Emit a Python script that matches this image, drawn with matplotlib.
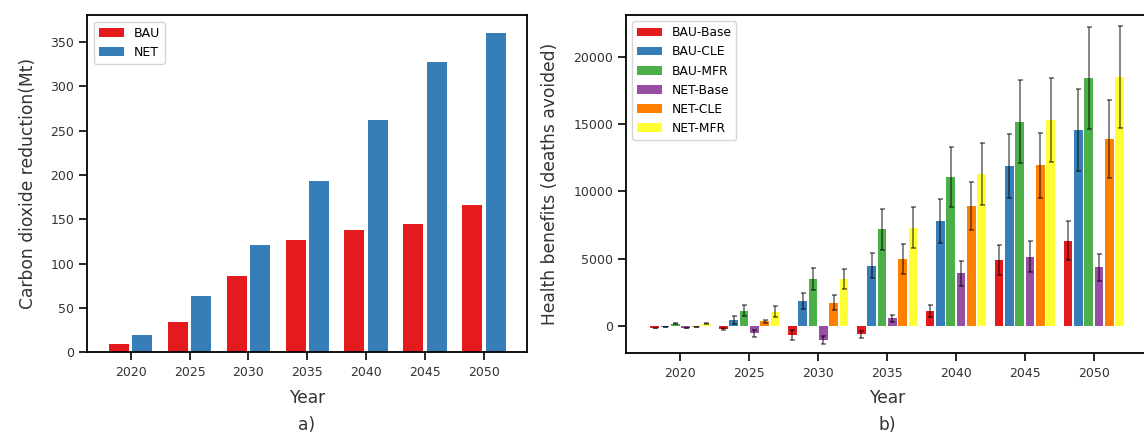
import matplotlib
matplotlib.use("Agg")
import matplotlib.pyplot as plt
import numpy as np

years = [2020, 2025, 2030, 2035, 2040, 2045, 2050]

# a) carbon dioxide reduction (Mt)
co2_bau = [9, 34, 86, 127, 138, 145, 166]
co2_net = [20, 64, 121, 193, 262, 327, 360]

# b) health benefits (deaths avoided) with uncertainty
scenarios = ["BAU-Base", "BAU-CLE", "BAU-MFR", "NET-Base", "NET-CLE", "NET-MFR"]
health = {
    "BAU-Base": [-150, -220, -680, -620, 1110, 4900, 6340],
    "BAU-CLE": [-60, 430, 1860, 4480, 7800, 11880, 14550],
    "BAU-MFR": [180, 1140, 3465, 7180, 11090, 15170, 18420],
    "NET-Base": [-150, -540, -1020, 570, 3910, 5150, 4360],
    "NET-CLE": [-60, 340, 1730, 4975, 8910, 11950, 13890],
    "NET-MFR": [180, 1050, 3465, 7300, 11290, 15300, 18510],
}
health_err = {
    "BAU-Base": [30, 90, 360, 280, 450, 1100, 1450],
    "BAU-CLE": [20, 300, 570, 920, 1600, 2380, 3020],
    "BAU-MFR": [40, 420, 815, 1510, 2230, 3100, 3800],
    "NET-Base": [30, 280, 300, 250, 940, 1140, 990],
    "NET-CLE": [20, 100, 540, 1085, 1780, 2410, 2900],
    "NET-MFR": [40, 400, 735, 1510, 2270, 3140, 3790],
}
colors = ["#e41a1c", "#377eb8", "#4daf4a", "#984ea3", "#ff7f00", "#ffff33"]

plt.rcParams["font.family"] = "DejaVu Sans"
plt.rcParams["xtick.major.size"] = 5.5
plt.rcParams["ytick.major.size"] = 5.5
plt.rcParams["xtick.major.width"] = 1.2
plt.rcParams["ytick.major.width"] = 1.2
plt.rcParams["axes.linewidth"] = 1.3

label_kw = dict(fontsize=12.3, color="#333333")

fig = plt.figure(figsize=(11.44, 4.37), dpi=100)
ax1 = fig.add_axes([0.0763, 0.1938, 0.3841, 0.7712])
ax2 = fig.add_axes([0.5475, 0.1915, 0.4565, 0.7735])

x = np.array(years)

# left panel: paired bars
ax1.bar(x - 1, co2_bau, width=1.7, color=colors[0], label="BAU")
ax1.bar(x + 1, co2_net, width=1.7, color=colors[1], label="NET")
ax1.set_xlim(2016.32, 2053.62)
ax1.set_ylim(0, 380)
ax1.set_xticks(years)
ax1.set_ylabel("Carbon dioxide reduction(Mt)", **label_kw)
ax1.set_xlabel("Year", va="center", **label_kw)
ax1.xaxis.set_label_coords(0.5, -0.136)
ax1.yaxis.set_label_coords(-0.114, 0.5)
ax1.text(0.5, -0.216, "a)", transform=ax1.transAxes, ha="center", va="center",
         **label_kw)
ax1.legend(loc="upper left", fontsize=9)

# right panel: six scenarios per year with error bars
step = 0.75
for i, (name, col) in enumerate(zip(scenarios, colors)):
    ax2.bar(x + (i - 2.5) * step, health[name], width=0.63, color=col,
            yerr=health_err[name], label=name,
            error_kw=dict(ecolor="black", elinewidth=1.1, capsize=1.8,
                          capthick=1.1, alpha=0.6))
ax2.set_xlim(2016.08, 2053.98)
ax2.set_ylim(-2027, 23075)
ax2.set_xticks(years)
ax2.set_yticks([0, 5000, 10000, 15000, 20000])
ax2.set_ylabel("Health benefits (deaths avoided)", **label_kw)
ax2.set_xlabel("Year", va="center", **label_kw)
ax2.xaxis.set_label_coords(0.5, -0.132)
ax2.yaxis.set_label_coords(-0.129, 0.5)
ax2.text(0.5, -0.212, "b)", transform=ax2.transAxes, ha="center", va="center",
         **label_kw)
ax2.legend(loc="upper left", fontsize=8.8)

for ax in (ax1, ax2):
    ax.tick_params(labelsize=9, labelcolor="#333333", pad=4)

fig.savefig("out.png", dpi=100)
